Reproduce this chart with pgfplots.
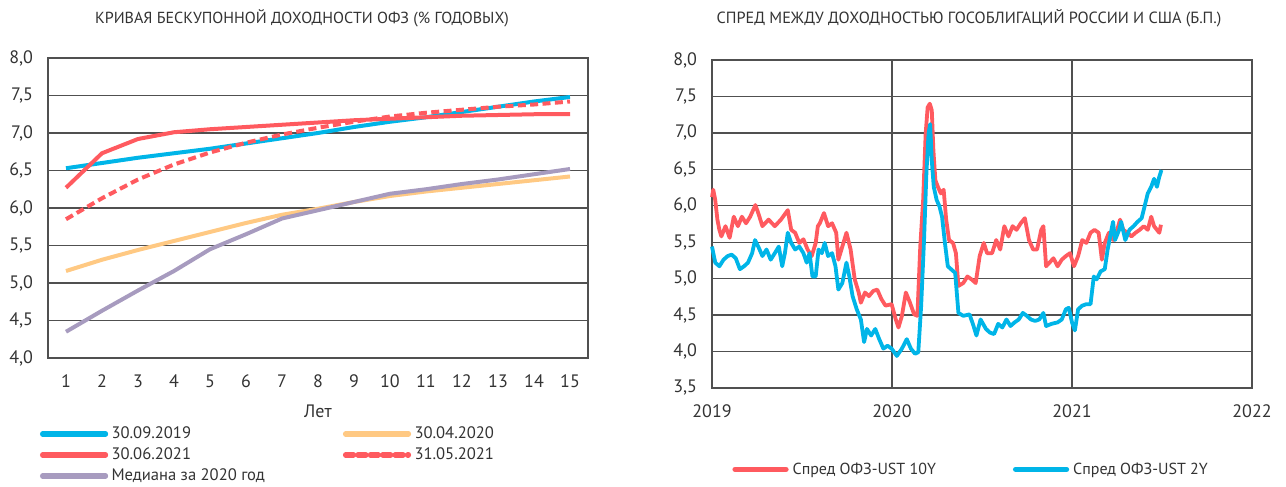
\documentclass[border=0pt]{standalone}
\usepackage{pgfplots}
\pgfplotsset{compat=1.18}
\usepackage{fontspec}
\setmainfont{PT Sans}
\definecolor{cblue}{HTML}{00B5E8}
\definecolor{cred}{HTML}{FF5A5F}
\definecolor{corange}{HTML}{FFC983}
\definecolor{cpurple}{HTML}{A79BBF}
\definecolor{ctext}{HTML}{333333}
\definecolor{cgrid}{HTML}{505050}
\pgfplotsset{
  common/.style={
    scale only axis,
    font=\fontsize{9}{10.8}\selectfont,
    axis line style={cgrid, line width=0.7pt},
    major grid style={cgrid, line width=0.7pt},
    major tick length=0pt,
    tick style={draw=none},
    ticklabel style={text=ctext},
    yticklabel style={xshift=-4pt, /pgf/number format/use comma, /pgf/number format/fixed, /pgf/number format/fixed zerofill, /pgf/number format/precision=1, /pgf/number format/assume math mode=true},
    xticklabel style={/pgf/number format/1000 sep={}, /pgf/number format/assume math mode=true},
    legend cell align=left,
    clip=false,
  }
}
\begin{document}
\begin{tikzpicture}[x=1pt,y=1pt]
\path (0,0) rectangle (643,243.5);
\node[text=ctext, font=\fontsize{8}{9.6}\selectfont] at (151,234.5) {КРИВАЯ БЕСКУПОННОЙ ДОХОДНОСТИ ОФЗ (\% ГОДОВЫХ)};
\node[text=ctext, font=\fontsize{8.1}{9.6}\selectfont] at (484.5,234.5) {СПРЕД МЕЖДУ ДОХОДНОСТЬЮ ГОСОБЛИГАЦИЙ РОССИИ И США (Б.П.)};
\begin{axis}[common,
  at={(24pt,64.5pt)}, anchor=south west,
  width=270pt, height=150pt,
  xmin=0.5, xmax=15.5, ymin=4, ymax=8,
  xtick={1,...,15}, ytick={4,4.5,...,8},
  xticklabel style={yshift=-5pt},
  ymajorgrids,
  xlabel={Лет}, xlabel style={text=ctext, yshift=-1.5pt},
  legend columns=2,
  legend style={at={(-0.0156,-0.225)}, anchor=north west, draw=none, fill=none,
    font=\fontsize{8.3}{10}\selectfont, text=ctext,
    inner sep=0pt, row sep=2.5pt,
    nodes={inner sep=0pt, text height=6.5pt, text depth=1.5pt},
    /tikz/every odd column/.append style={column sep=1.7pt},
    /tikz/every even column/.append style={column sep=39pt}},
  legend image code/.code={\draw[#1, line width=2.6pt, line cap=round] (0pt,0pt) -- (31.5pt,0pt);},
]
\addplot[cblue, line width=2pt] coordinates {(1,6.53) (2,6.60) (3,6.67) (4,6.73) (5,6.79) (6,6.86) (7,6.93) (8,7.00) (9,7.08) (10,7.15) (11,7.21) (12,7.28) (13,7.35) (14,7.42) (15,7.48)};
\addlegendentry{30.09.2019}
\addplot[corange, line width=2pt] coordinates {(1,5.16) (2,5.31) (3,5.44) (4,5.56) (5,5.68) (6,5.80) (7,5.91) (8,5.99) (9,6.08) (10,6.16) (11,6.22) (12,6.27) (13,6.32) (14,6.37) (15,6.42)};
\addlegendentry{30.04.2020}
\addplot[cred, line width=2pt] coordinates {(1,6.27) (2,6.73) (3,6.92) (4,7.01) (5,7.05) (6,7.08) (7,7.11) (8,7.14) (9,7.17) (10,7.19) (11,7.21) (12,7.23) (13,7.24) (14,7.25) (15,7.25)};
\addlegendentry{30.06.2021}
\addplot[cred, line width=2pt, dash pattern=on 4pt off 2.2pt] coordinates {(1,5.85) (2,6.13) (3,6.38) (4,6.58) (5,6.74) (6,6.87) (7,6.98) (8,7.07) (9,7.15) (10,7.22) (11,7.27) (12,7.31) (13,7.35) (14,7.38) (15,7.42)};
\addlegendentry{31.05.2021}
\addplot[cpurple, line width=2pt] coordinates {(1,4.35) (2,4.63) (3,4.90) (4,5.16) (5,5.45) (6,5.65) (7,5.86) (8,5.97) (9,6.08) (10,6.19) (11,6.25) (12,6.32) (13,6.38) (14,6.45) (15,6.52)};
\addlegendentry{Медиана за 2020 год}
\end{axis}
\begin{axis}[common,
  at={(356pt,49.5pt)}, anchor=south west,
  width=270pt, height=164pt,
  xmin=2019, xmax=2022, ymin=3.5, ymax=8,
  xtick={2019,2020,2021,2022}, ytick={3.5,4,...,8},
  xmajorgrids, ymajorgrids,
  xticklabel style={yshift=-5pt},
  legend columns=2,
  legend style={at={(0.478,-0.248)}, anchor=center, draw=none, fill=none,
    font=\fontsize{8}{10}\selectfont, text=ctext,
    inner sep=0pt,
    nodes={inner sep=0pt, text height=6.5pt, text depth=1.5pt},
    /tikz/every odd column/.append style={column sep=2pt},
    /tikz/every even column/.append style={column sep=38.5pt}},
  legend image code/.code={\draw[#1, line width=2.6pt, line cap=round] (0pt,0pt) -- (25.5pt,0pt);},
]
\addplot[cred, line width=1.9pt, line join=round] coordinates {
(2019.000,6.12) (2019.007,6.22) (2019.018,6.08) (2019.030,5.81) (2019.041,5.67) (2019.052,5.58) (2019.075,5.72) (2019.098,5.56) (2019.121,5.85) (2019.144,5.72) (2019.166,5.85) (2019.189,5.76) (2019.212,5.85) (2019.241,6.01) (2019.257,5.90) (2019.280,5.72) (2019.314,5.81) (2019.349,5.72) (2019.383,5.81) (2019.421,5.94) (2019.440,5.67) (2019.462,5.63) (2019.485,5.49) (2019.508,5.54) (2019.531,5.40) (2019.554,5.31) (2019.576,5.49) (2019.588,5.72) (2019.599,5.76) (2019.622,5.90) (2019.645,5.72) (2019.667,5.76) (2019.690,5.63) (2019.702,5.26) (2019.724,5.44) (2019.747,5.63) (2019.770,5.40) (2019.793,4.99) (2019.815,4.81) (2019.827,4.67) (2019.850,4.81) (2019.872,4.76) (2019.895,4.83) (2019.918,4.85) (2019.941,4.72) (2019.964,4.63) (2019.998,4.65) (2020.021,4.44) (2020.036,4.33) (2020.055,4.49) (2020.077,4.81) (2020.100,4.67) (2020.123,4.51) (2020.141,4.49) (2020.157,5.44) (2020.173,6.08) (2020.187,6.99) (2020.198,7.35) (2020.210,7.40) (2020.221,7.31) (2020.230,6.76) (2020.241,6.35) (2020.255,6.26) (2020.271,6.17) (2020.287,6.22) (2020.301,5.81) (2020.317,5.53) (2020.339,5.49) (2020.355,5.35) (2020.369,4.90) (2020.396,4.94) (2020.419,5.03) (2020.442,4.99) (2020.465,4.94) (2020.487,5.31) (2020.510,5.49) (2020.528,5.35) (2020.556,5.35) (2020.579,5.53) (2020.601,5.40) (2020.624,5.72) (2020.647,5.58) (2020.670,5.72) (2020.692,5.67) (2020.715,5.76) (2020.738,5.83) (2020.761,5.53) (2020.784,5.40) (2020.806,5.40) (2020.829,5.67) (2020.841,5.72) (2020.856,5.17) (2020.875,5.22) (2020.897,5.28) (2020.920,5.17) (2020.943,5.26) (2020.966,5.31) (2020.989,5.35) (2021.011,5.17) (2021.034,5.31) (2021.057,5.53) (2021.080,5.49) (2021.103,5.63) (2021.125,5.67) (2021.148,5.63) (2021.166,5.26) (2021.182,5.49) (2021.205,5.63) (2021.228,5.53) (2021.251,5.67) (2021.267,5.81) (2021.285,5.67) (2021.308,5.63) (2021.330,5.58) (2021.353,5.63) (2021.376,5.67) (2021.399,5.72) (2021.421,5.67) (2021.440,5.85) (2021.456,5.72) (2021.472,5.67) (2021.485,5.63) (2021.494,5.74)};
\addlegendentry{Спред ОФЗ-UST 10Y}
\addplot[cblue, line width=1.9pt, line join=round] coordinates {
(2019.000,5.44) (2019.018,5.22) (2019.041,5.17) (2019.064,5.26) (2019.087,5.31) (2019.109,5.33) (2019.132,5.28) (2019.155,5.13) (2019.178,5.17) (2019.200,5.22) (2019.223,5.35) (2019.239,5.53) (2019.257,5.44) (2019.280,5.31) (2019.303,5.40) (2019.326,5.26) (2019.349,5.35) (2019.371,5.44) (2019.390,5.17) (2019.405,5.35) (2019.421,5.63) (2019.440,5.49) (2019.462,5.40) (2019.485,5.44) (2019.508,5.35) (2019.526,5.22) (2019.542,5.35) (2019.558,5.03) (2019.576,5.03) (2019.592,5.40) (2019.610,5.35) (2019.626,5.49) (2019.645,5.31) (2019.667,5.35) (2019.686,5.17) (2019.702,4.85) (2019.724,4.94) (2019.747,5.22) (2019.763,5.03) (2019.781,4.76) (2019.804,4.58) (2019.827,4.44) (2019.845,4.13) (2019.861,4.31) (2019.884,4.22) (2019.907,4.31) (2019.929,4.17) (2019.952,4.04) (2019.975,4.08) (2019.998,4.04) (2020.027,3.94) (2020.055,4.04) (2020.082,4.17) (2020.105,4.04) (2020.128,3.97) (2020.146,3.99) (2020.162,4.63) (2020.178,5.53) (2020.191,6.44) (2020.203,6.99) (2020.212,7.12) (2020.221,6.62) (2020.232,6.26) (2020.248,6.08) (2020.264,5.99) (2020.278,5.85) (2020.294,5.49) (2020.310,5.17) (2020.328,5.13) (2020.351,5.08) (2020.369,4.53) (2020.396,4.49) (2020.431,4.51) (2020.453,4.35) (2020.469,4.22) (2020.492,4.44) (2020.522,4.31) (2020.544,4.26) (2020.567,4.24) (2020.590,4.38) (2020.613,4.33) (2020.636,4.44) (2020.658,4.35) (2020.681,4.40) (2020.704,4.44) (2020.727,4.53) (2020.749,4.49) (2020.772,4.44) (2020.795,4.42) (2020.818,4.44) (2020.841,4.53) (2020.856,4.35) (2020.886,4.38) (2020.920,4.40) (2020.943,4.44) (2020.966,4.58) (2020.982,4.60) (2021.000,4.40) (2021.016,4.29) (2021.034,4.58) (2021.057,4.63) (2021.080,4.65) (2021.103,4.65) (2021.121,5.03) (2021.137,4.99) (2021.159,5.10) (2021.182,5.13) (2021.198,5.40) (2021.216,5.63) (2021.228,5.78) (2021.239,5.53) (2021.262,5.67) (2021.273,5.78) (2021.296,5.53) (2021.319,5.67) (2021.342,5.72) (2021.364,5.78) (2021.387,5.83) (2021.403,5.99) (2021.421,6.17) (2021.440,6.26) (2021.456,6.37) (2021.472,6.26) (2021.485,6.40) (2021.497,6.49)};
\addlegendentry{Спред ОФЗ-UST 2Y}
\end{axis}
\end{tikzpicture}
\end{document}
